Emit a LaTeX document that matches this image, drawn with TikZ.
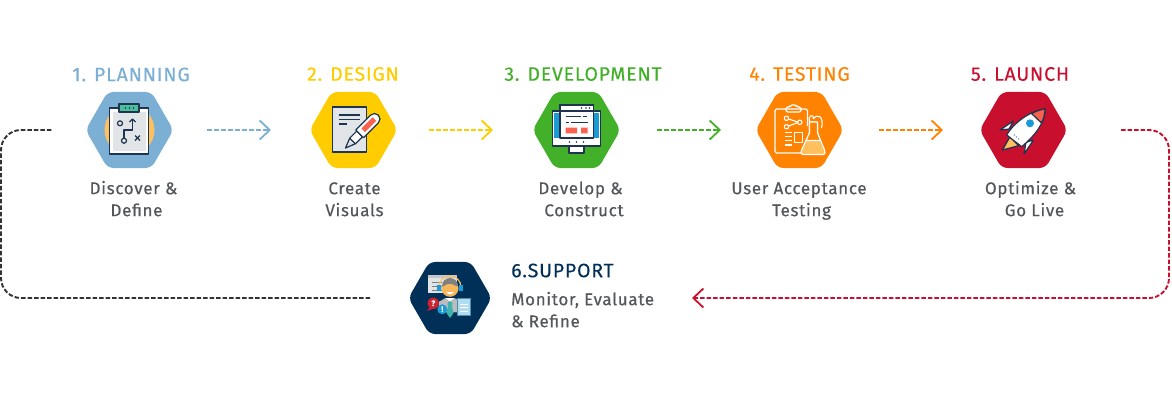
\documentclass[tikz,border=0pt]{standalone}
\usepackage{fontspec}
\setmainfont[LetterSpace=4,FakeBold=0.25]{Fira Sans}
\newfontfamily\capfont[LetterSpace=4,FakeBold=0.5]{Fira Sans}
\usetikzlibrary{arrows.meta,shapes.geometric}

\definecolor{planblue}{HTML}{7BAFD4}
\definecolor{designyellow}{HTML}{FFCC00}
\definecolor{devgreen}{HTML}{43B02A}
\definecolor{testorange}{HTML}{FF8200}
\definecolor{launchred}{HTML}{C8102E}
\definecolor{supportnavy}{HTML}{003057}
\definecolor{captiongray}{HTML}{53565A}
\definecolor{looplinegray}{HTML}{333333}
\definecolor{iconink}{HTML}{1E3450}
\definecolor{iconpaper}{HTML}{E1E5E8}
\definecolor{iconamber}{HTML}{FFC05F}
\definecolor{iconcoral}{HTML}{F8634F}
\definecolor{iconsky}{HTML}{1C9AD6}
\definecolor{iconmint}{HTML}{4DBE9C}

\tikzset{
    hexbox/.style={regular polygon, regular polygon sides=6, regular polygon rotate=0,
        minimum size=87.8pt, inner sep=0pt, outer sep=0pt, rounded corners=6pt, fill=#1},
    titletext/.style={font=\fontsize{19.5}{20}\selectfont, text=#1, inner sep=0pt, anchor=center},
    captext/.style={font=\capfont\fontsize{17}{22}\selectfont, text=captiongray, align=center, inner sep=0pt,
        anchor=north, text height=12pt},
    flowline/.style={line width=1.6pt, dash pattern=on 4.5pt off 2.5pt, draw=#1,
        -{Straight Barb[length=10pt,width=19pt,line width=1.8pt]}},
    loopline/.style={line width=1.9pt, dash pattern=on 4.5pt off 2pt, draw=#1, rounded corners=20pt},
    inkline/.style={draw=iconink, line width=1.2pt, line join=round},
    whiteline/.style={draw=white, line width=1.1pt, line join=round}
}

\begin{document}
\begin{tikzpicture}[x=1pt, y=-1pt]
    \useasboundingbox (0,0) rectangle (1172,400);

    % Hexagons
    \node[hexbox=planblue] (hexplan) at (129.5,130) {};
    \node[hexbox=designyellow] (hexdesign) at (353.5,130) {};
    \node[hexbox=devgreen] (hexdev) at (576.5,130) {};
    \node[hexbox=testorange] (hextest) at (799.5,130) {};
    \node[hexbox=launchred] (hexlaunch) at (1023.5,130) {};
    \node[hexbox=supportnavy, minimum size=83.2pt] (hexsupport) at (450,298) {};

    % Step titles
    \node[titletext=planblue] (titleplan) at (131,74.5) {1. PLANNING};
    \node[titletext=designyellow] (titledesign) at (353,74) {2. DESIGN};
    \node[titletext=devgreen] (titledev) at (583,74) {3. DEVELOPMENT};
    \node[titletext=testorange] (titletest) at (799.5,74) {4. TESTING};
    \node[titletext=launchred] (titlelaunch) at (1020,74) {5. LAUNCH};
    \node[titletext=supportnavy, anchor=west] (titlesupport) at (511,270.5) {6.SUPPORT};

    % Captions
    \node[captext] (capplan) at (133.5,204) {Discover \&\\\hspace*{6pt}Define};
    \node[captext] (capdesign) at (354.5,204) {Create\\Visuals};
    \node[captext] (capdev) at (580.5,204) {Develop \&\\\hspace*{7pt}Construct};
    \node[captext] (captest) at (799,204) {User Acceptance\\\hspace*{5pt}Testing};
    \node[captext] (caplaunch) at (1030.5,204) {Optimize \&\\\hspace*{8pt}Go Live};
    \node[captext, align=left, anchor=north west] (capsupport) at (511,315) {Monitor, Evaluate\\\& Refine};

    % Ends of the connectors
    \coordinate (planout) at (207,130);
    \coordinate (designin) at (271,130);
    \coordinate (designout) at (429,130);
    \coordinate (devin) at (493,130);
    \coordinate (devout) at (657,130);
    \coordinate (testin) at (721,130);
    \coordinate (testout) at (879,130);
    \coordinate (launchin) at (943,130);
    \coordinate (launchout) at (1121,130);
    \coordinate (supportin) at (692,298);
    \coordinate (supportout) at (370,298);
    \coordinate (planin) at (52,130);

    % Connectors
    \draw[flowline=planblue] (planout) -- (designin);
    \draw[flowline=designyellow] (designout) -- (devin);
    \draw[flowline=devgreen] (devout) -- (testin);
    \draw[flowline=testorange] (testout) -- (launchin);
    \draw[loopline=launchred, -{Straight Barb[length=10pt,width=19pt,line width=1.8pt]}]
        (launchout) -- (1169,130) -- (1169,298) -- (supportin);
    \draw[loopline=looplinegray] (supportout) -- (1,298) -- (1,130) -- (planin);

    % Icon: clipboard with route
    \begin{scope}[shift={(129.5,130)}]
        \fill[iconamber] (0,0) circle (25);
        \draw[inkline, fill=white!90!iconpaper] (-20,-22) rectangle (19,24);
        \fill[iconpaper] (-17,-18) rectangle (16,21);
        \draw[inkline, fill=iconmint] (-10.5,-26) rectangle (9.5,-18);
        \foreach \dotx in {-4,0,4} \fill[iconink] (\dotx,-22) circle (0.8);
        \draw[inkline] (-9.5,-6.7) circle (2.5);
        \draw[inkline] (-5.5,10.7) circle (2.5);
        \draw[inkline] (-5.5,8) -- (-5.5,0) -- (3,0) -- (3,-11);
        \draw[inkline] (0,-8) -- (3,-11) -- (6,-8);
        \draw[inkline] (5.5,5.5) -- (10.5,10.5) (5.5,10.5) -- (10.5,5.5);
    \end{scope}

    % Icon: sheet and pen
    \begin{scope}[shift={(353.5,130)}]
        \draw[inkline, fill=iconpaper] (-21,-23) rectangle (13,22);
        \draw[inkline] (-15,-15) -- (6,-15) (-15,-10.7) -- (6,-10.7) (-15,-6) -- (-7,-6);
        \begin{scope}[shift={(-8,18)}, rotate=45]
            \draw[inkline, fill=iconpaper] (0,0) -- (10,-4) -- (10,4) -- cycle;
            \draw[inkline, fill=white] (10,-4) -- (20,-4) -- (20,4) -- (10,4) -- cycle;
            \draw[inkline, fill=white] (20,-5.5) -- (41,-5.5) arc (-90:90:5.5) -- (20,5.5) -- cycle;
            \fill[iconcoral] (25,-2.5) rectangle (41,2.5);
        \end{scope}
    \end{scope}

    % Icon: monitor and web page
    \begin{scope}[shift={(576.5,130)}]
        \draw[inkline, fill=white] (-7.5,16) -- (7.5,16) -- (7.5,23) -- (-7.5,23) -- cycle;
        \draw[inkline, fill=white] (-24,-19) rectangle (24,16);
        \fill[iconsky] (-22.5,-17.5) rectangle (22.5,8);
        \draw[inkline, fill=white!92!iconpaper] (-16.5,-25) rectangle (16.8,8);
        \draw[inkline, fill=white] (-16.5,-25) rectangle (16.8,-19);
        \foreach \dotx in {5,9.5,13} \fill[iconink] (\dotx,-22) circle (0.8);
        \foreach \dotx in {-7,0,7} \fill[iconink] (\dotx,12) circle (0.9);
        \draw[iconink, line width=1.2pt] (-11,-13.3) -- (4.5,-13.3) (6.5,-13.3) -- (10.8,-13.3)
            (-11,-7.3) -- (-7.7,-7.3) (-5.5,-7.3) -- (11,-7.3);
        \fill[iconcoral] (-11,-2.3) rectangle (0.5,3.3) (4.5,-2.3) rectangle (11,3.3);
    \end{scope}

    % Icon: test sheet and flask
    \begin{scope}[shift={(799.5,130)}]
        \draw[whiteline, rounded corners=1.5pt] (8,-4) -- (8,-21) -- (-24.5,-21) -- (-24.5,23) -- (2,23);
        \draw[whiteline, rounded corners=1.5pt] (-13.5,-18) -- (-13.5,-23) -- (-9,-23) -- (-9,-25) -- (-3,-25) -- (-3,-23) -- (1.5,-23) -- (1.5,-18) -- cycle;
        \draw[whiteline] (-13,-11.7) circle (2.2) (-13,-3.3) circle (2.2) (0.3,-7.7) circle (2.2);
        \draw[whiteline] (-10.8,-11) -- (-1.9,-8) (-10.8,-4) -- (-1.9,-7.4);
        \draw[whiteline] (-5,2.3) rectangle (3,12.3);
        \draw[whiteline] (-15,2.3) -- (-8,2.3) (-15,6.5) -- (-8,6.5) (-15,10.7) -- (-8,10.7) (-15,15) -- (-8,15);
        \draw[whiteline, fill=iconamber, rounded corners=1.5pt] (10,-8) -- (10,3) -- (1.5,21) -- (1.5,24.5) -- (25.5,24.5) -- (25.5,21) -- (18,3) -- (18,-8) -- cycle;
        \draw[whiteline, fill=testorange] (10,-8) -- (10,3) -- (6.5,10.5) -- (21,10.5) -- (18,3) -- (18,-8) -- cycle;
        \draw[whiteline] (10,-8) .. controls (8,-16) and (15,-16) .. (14,-11) (14,-11) .. controls (17,-17) and (25,-14) .. (22,-2);
    \end{scope}

    % Icon: rocket
    \begin{scope}[shift={(1023.5,130)}]
        \draw[inkline, fill=iconamber] (-13.5,6.7) -- (-21,20) -- (-5,15.7) -- cycle;
        \draw[inkline, fill=white] (-23.5,0) -- (-10,-9) -- (-14.5,-1) -- cycle;
        \draw[inkline, fill=white] (0.5,24) -- (10,10) -- (2.5,12.3) -- cycle;
        \draw[inkline, fill=white] (21.5,-21) .. controls (10,-20) and (-8,-10) .. (-16.8,5)
            -- (-1.8,16.7) .. controls (12,5) and (22,-8) .. (21.5,-21) -- cycle;
        \draw[inkline, fill=iconcoral] (21.5,-21) .. controls (17,-20.5) and (12,-18.5) .. (8,-16.5)
            -- (18,-7) .. controls (20,-11) and (21.5,-16) .. (21.5,-21) -- cycle;
        \fill[iconsky] (6.5,-6.7) circle (4);
        \foreach \dotk in {0,1,2} \fill[iconpaper!60!iconink] (-9+\dotk*2,5+\dotk*2) circle (0.8);
    \end{scope}

    % Icon: support agent
    \begin{scope}[shift={(450,298)}]
        \fill[iconpaper] (-21.7,-23) rectangle (6.7,-4.7);
        \fill[iconpaper!70!gray] (-21.7,-23) rectangle (6.7,-20.5);
        \draw[gray, line width=1pt] (-18,-16) -- (-8,-16) (-18,-12) -- (-8,-12) (-18,-8) -- (-8,-8);
        \fill[white] (-11,14) -- (-11,4) -- (-4,0) -- (4,0) -- (11,4) -- (11,14) -- cycle;
        \fill[iconpaper!60!gray] (-11,14) -- (-11,4) -- (-4,0) -- (0,4) -- (4,0) -- (11,4) -- (11,14) -- (3,14) -- (0,4) -- (-3,14) -- cycle;
        \fill[iconmint!70!iconsky] (0,3) -- (2.5,5) -- (2,9) -- (3.5,15) -- (0,20) -- (-3.5,15) -- (-2,9) -- (-2.5,5) -- cycle;
        \fill[iconamber!85!brown] (0,-9.7) circle (8.5);
        \fill[gray] (-8,-12) arc (180:360:8) -- (6,-12) .. controls (2,-15) and (-3,-15) .. (-6,-12) -- cycle;
        \fill[white] (-4,-6) .. controls (-2,-3) and (2,-3) .. (4,-6) -- cycle;
        \draw[iconamber, line width=1.2pt] (-11,-11) arc (180:360:11);
        \fill[iconsky] (-13,-13) rectangle (-9,-7) (9,-13) rectangle (13,-7);
        \fill[launchred!90!iconamber] (-16.7,5.3) circle (5.7);
        \fill[launchred!90!iconamber] (-20,9) -- (-23,13) -- (-16,10.5) -- cycle;
        \node[font=\bfseries\fontsize{8}{8}\selectfont, text=white, inner sep=0pt] (askmark) at (-16.7,5.3) {?};
        \fill[iconsky] (-7.7,11.3) circle (5);
        \node[font=\bfseries\fontsize{8}{8}\selectfont, text=white, inner sep=0pt] (bangmark) at (-7.7,11.3) {!};
        \draw[iconsky!50!gray, line width=1pt, fill=iconsky!35!white] (7.3,0.3) rectangle (20.7,17.7);
        \draw[white, line width=0.8pt] (10,6) -- (18,6) (10,9.5) -- (18,9.5) (10,13) -- (18,13);
    \end{scope}
\end{tikzpicture}
\end{document}
